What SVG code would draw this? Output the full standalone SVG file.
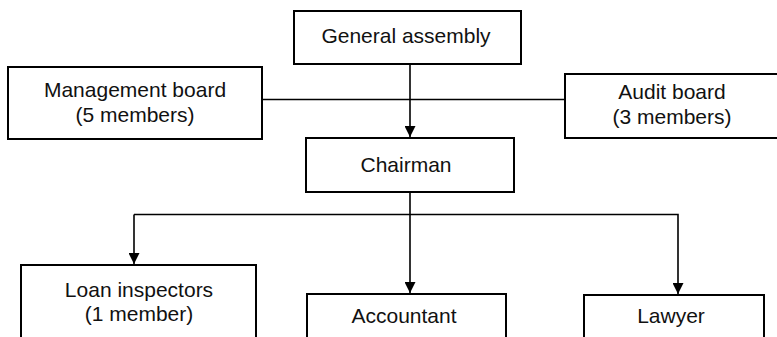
<svg xmlns="http://www.w3.org/2000/svg" width="777" height="337" viewBox="0 0 777 337">
  <style>
    .box { fill: #fff; stroke: #000; stroke-width: 2; }
    .lbl { font-family: "Liberation Sans", Arial, Helvetica, sans-serif; font-size: 21px; fill: #111; text-anchor: middle; }
    .wire { fill: none; stroke: #000; stroke-width: 1.6; }
  </style>
  <defs>
    <marker id="arrow" viewBox="0 0 10 10" refX="10" refY="5" markerWidth="11" markerHeight="11" markerUnits="userSpaceOnUse" orient="auto">
      <path d="M0,0 L10,5 L0,10 Z" fill="#000"/>
    </marker>
  </defs>
  <rect width="777" height="337" fill="#fff"/>

  <g id="connectors">
    <line class="wire" x1="262" y1="99.5" x2="565" y2="99.5"/>
    <line class="wire" x1="410" y1="64" x2="410" y2="137" marker-end="url(#arrow)"/>
    <line class="wire" x1="410" y1="192" x2="410" y2="293" marker-end="url(#arrow)"/>
    <line class="wire" x1="134" y1="214.5" x2="134" y2="264" marker-end="url(#arrow)"/>
    <polyline class="wire" points="134,214.5 678,214.5 678,294" marker-end="url(#arrow)"/>
  </g>

  <g id="general-assembly">
    <rect class="box" x="294" y="11" width="227" height="53"/>
    <text class="lbl" x="406" y="43">General assembly</text>
  </g>

  <g id="management-board">
    <rect class="box" x="8" y="67" width="254" height="72"/>
    <text class="lbl" x="135" y="97">Management board</text>
    <text class="lbl" x="135" y="122">(5 members)</text>
  </g>

  <g id="audit-board">
    <rect class="box" x="565" y="74" width="213" height="64"/>
    <text class="lbl" x="672" y="99">Audit board</text>
    <text class="lbl" x="672" y="124">(3 members)</text>
  </g>

  <g id="chairman">
    <rect class="box" x="306" y="138" width="208" height="54"/>
    <text class="lbl" x="406" y="172">Chairman</text>
  </g>

  <g id="loan-inspectors">
    <rect class="box" x="21" y="265" width="235" height="80"/>
    <text class="lbl" x="139" y="297">Loan inspectors</text>
    <text class="lbl" x="139" y="321">(1 member)</text>
  </g>

  <g id="accountant">
    <rect class="box" x="307" y="294" width="199" height="60"/>
    <text class="lbl" x="404" y="323">Accountant</text>
  </g>

  <g id="lawyer">
    <rect class="box" x="584" y="295" width="180" height="60"/>
    <text class="lbl" x="671" y="323">Lawyer</text>
  </g>
</svg>
